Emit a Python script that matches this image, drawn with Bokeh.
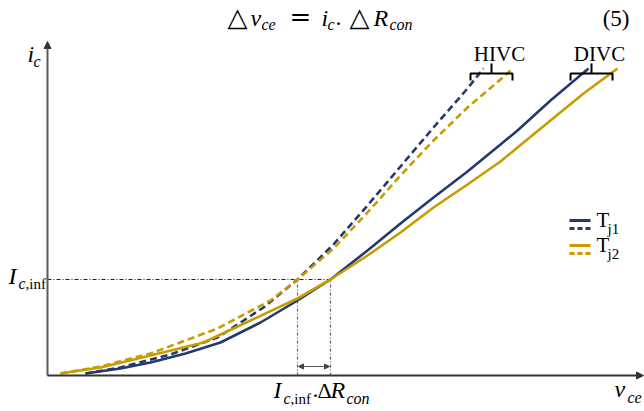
from bokeh.plotting import figure
from bokeh.models import Range1d, Label, Arrow, NormalHead
from bokeh.embed import file_html
from bokeh.resources import INLINE

# Collector current i_c against collector-emitter voltage v_ce (arbitrary units)
# Tj1 / Tj2 = junction temperatures, DIVC = solid curves, HIVC = dashed curves
vce_tj1_divc = [38, 73, 103, 138, 173, 213, 250, 283, 320, 353, 386, 420, 453, 470, 503, 541]
ic_tj1_divc = [2, 7, 13, 22, 33, 53, 75, 96, 125, 152, 178, 204, 231, 245, 275, 307]

vce_tj2_divc = [13, 53, 103, 156, 203, 250, 283, 320, 353, 386, 420, 453, 470, 503, 536, 570]
ic_tj2_divc = [2, 8, 20, 33, 55, 77, 96, 120, 143, 168, 191, 214, 228, 255, 282, 307]

vce_tj1_hivc = [38, 73, 123, 170, 216, 250, 286, 320, 353, 386, 420, 436]
ic_tj1_hivc = [2, 8, 21, 38, 68, 96, 131, 170, 209, 248, 287, 307]

vce_tj2_hivc = [13, 53, 103, 170, 223, 250, 286, 320, 353, 386, 420, 453, 463]
ic_tj2_hivc = [2, 9, 22, 47, 75, 96, 127, 163, 200, 235, 268, 296, 305]

# inflection current and the two voltages where the curves cross it
ic_inf = 96
vce_inf_hivc = 250
vce_inf_divc = 283

NAVY = "#233a6b"
GOLD = "#c89c00"
SERIF = "Liberation Serif"

W, H = 644, 411
OX, OY = 47, 375  # canvas position of the axes' origin


def cx(x):
    return x - OX


def cy(y):
    return OY - y


p = figure(width=W, height=H, x_range=Range1d(-OX, W - OX), y_range=Range1d(OY - H, OY),
           output_backend="svg", toolbar_location=None, min_border=0,
           x_axis_location=None, y_axis_location=None)
p.grid.grid_line_color = None
p.outline_line_color = None
p.background_fill_color = "white"


def lab(text, x, y, size, italic=False, align="left", color="black", font=SERIF):
    # y is the baseline on the canvas; labels are placed with a small lift
    p.add_layout(Label(x=cx(x), y=cy(y - 0.36 * size), text=text, text_font=font,
                       text_font_size=f"{size}px",
                       text_font_style="italic" if italic else "normal",
                       text_align=align, text_baseline="alphabetic", text_color=color))


# reference lines at the inflection current
p.line([0, vce_inf_divc], [ic_inf, ic_inf], line_color="#222", line_width=1, line_dash="4 2 1 2")
for v in (vce_inf_hivc, vce_inf_divc):
    p.line([v, v], [0, ic_inf], line_color="#666", line_width=1.2, line_dash="3 2 1 2")

p.add_layout(Arrow(start=NormalHead(size=5, fill_color="#444", line_color="#444"),
                   end=NormalHead(size=5, fill_color="#444", line_color="#444"),
                   x_start=vce_inf_hivc + 1, y_start=cy(366), x_end=vce_inf_divc - 1, y_end=cy(366),
                   line_color="#555", line_width=1.2))

# curves
p.line(vce_tj1_hivc, ic_tj1_hivc, line_color=NAVY, line_width=2.6, line_dash="7 4")
p.line(vce_tj2_hivc, ic_tj2_hivc, line_color=GOLD, line_width=2.6, line_dash="7 4")
p.line(vce_tj1_divc, ic_tj1_divc, line_color=NAVY, line_width=2.6)
p.line(vce_tj2_divc, ic_tj2_divc, line_color=GOLD, line_width=2.6)

# axes with arrow heads
p.add_layout(Arrow(end=NormalHead(size=7, fill_color="#333", line_color="#333"),
                   x_start=0, y_start=0, x_end=0, y_end=cy(41),
                   line_color="#5a5a5a", line_width=2))
p.add_layout(Arrow(end=NormalHead(size=7, fill_color="#333", line_color="#333"),
                   x_start=0, y_start=0, x_end=cx(643), y_end=0,
                   line_color="#333", line_width=2))

# HIVC / DIVC braces
for x0, x1, name in ((470, 512, "HIVC"), (570, 612, "DIVC")):
    xm = (x0 + x1) / 2
    p.line([cx(x0), cx(x0), cx(x1), cx(x1)], [cy(80), cy(73), cy(73), cy(80)],
           line_color="black", line_width=2)
    p.line([cx(xm), cx(xm)], [cy(73), cy(63)], line_color="black", line_width=2)
    lab(name, xm + 8, 61, 21, align="center")

# legend
for yy, col, dash, sub in ((220, NAVY, "solid", None), (228, NAVY, "5 3", "j1"),
                           (245, GOLD, "solid", None), (253, GOLD, "5 3", "j2")):
    p.line([cx(569), cx(590)], [cy(yy), cy(yy)], line_color=col, line_width=3, line_dash=dash)
    if sub:
        lab("T", 596, yy - 1, 21)
        lab(sub, 607, yy + 6, 15)

# axis labels
lab("i", 27, 62, 24, italic=True)
lab("c", 33, 67, 16, italic=True)
lab("v", 614, 397, 24, italic=True)
lab("ce", 627, 403, 16, italic=True)

lab("I", 8, 284, 24, italic=True)
lab("c", 18, 289, 16, italic=True)
lab(",inf", 25, 289, 15)

lab("I", 273, 398, 24, italic=True)
lab("c", 283, 404, 16, italic=True)
lab(",inf", 290, 404, 15)
lab(".", 312, 398, 24)
lab("\u0394", 317, 398, 22)
lab("R", 330, 398, 24, italic=True)
lab("con", 346, 404, 16, italic=True)

# equation
lab("\u25b3", 227, 26, 26, font="DejaVu Serif")
lab("v", 250, 26, 24, italic=True)
lab("ce", 261, 30, 16, italic=True)
lab("=", 289, 26, 26, font="DejaVu Serif")
lab("i", 321, 26, 24, italic=True)
lab("c", 327, 30, 16, italic=True)
lab(".", 335, 26, 24)
lab("\u25b3", 349, 26, 26, font="DejaVu Serif")
lab("R", 373, 26, 24, italic=True)
lab("con", 389, 30, 16, italic=True)
lab("(5)", 629, 26, 23, align="right")

open("out.html", "w").write(file_html(p, INLINE))
